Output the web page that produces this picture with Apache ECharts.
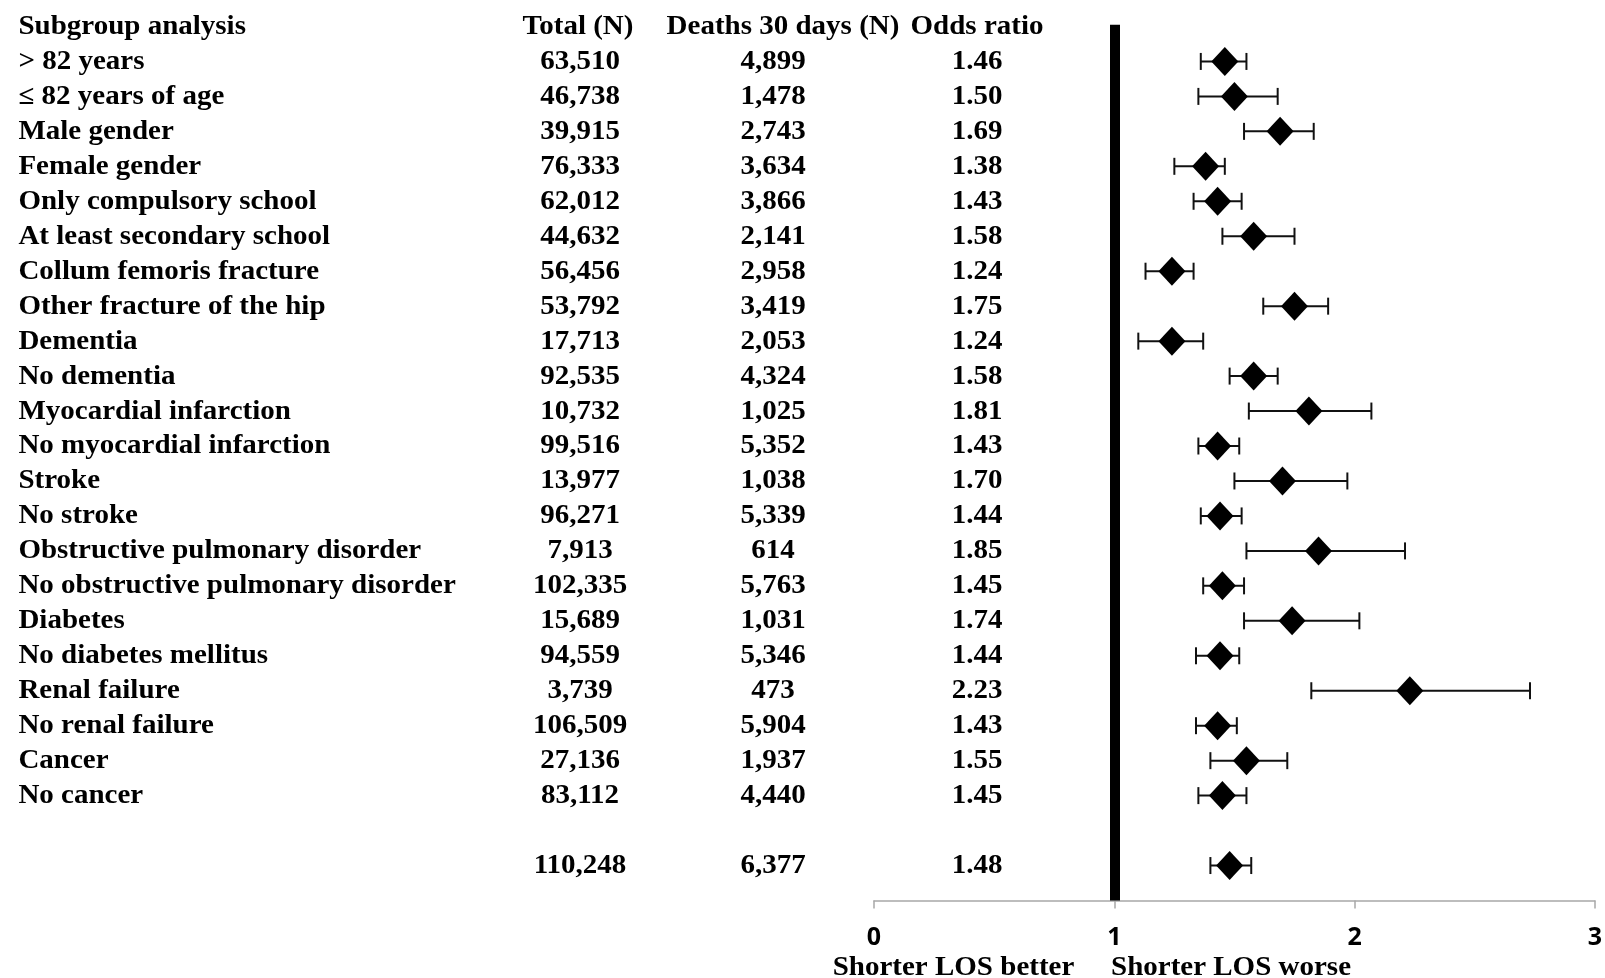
<!DOCTYPE html>
<html>
<head>
<meta charset="utf-8">
<script src="https://cdn.jsdelivr.net/npm/echarts@6/dist/echarts.min.js"></script>
<style>
html,body{margin:0;padding:0;background:#fff;}
#chart{width:1605px;height:978px;}
</style>
</head>
<body>
<div id="chart"></div>
<script>
// ---------- data ----------
const headers = ['Subgroup analysis', 'Total (N)', 'Deaths 30 days (N)', 'Odds ratio'];
const subgroups = ['> 82 years', '\u2264 82 years of age', 'Male gender', 'Female gender',
  'Only compulsory school', 'At least secondary school', 'Collum femoris fracture',
  'Other fracture of the hip', 'Dementia', 'No dementia', 'Myocardial infarction',
  'No myocardial infarction', 'Stroke', 'No stroke', 'Obstructive pulmonary disorder',
  'No obstructive pulmonary disorder', 'Diabetes', 'No diabetes mellitus', 'Renal failure',
  'No renal failure', 'Cancer', 'No cancer'];
const totalN = [63510, 46738, 39915, 76333, 62012, 44632, 56456, 53792, 17713, 92535, 10732,
  99516, 13977, 96271, 7913, 102335, 15689, 94559, 3739, 106509, 27136, 83112];
const deaths30 = [4899, 1478, 2743, 3634, 3866, 2141, 2958, 3419, 2053, 4324, 1025,
  5352, 1038, 5339, 614, 5763, 1031, 5346, 473, 5904, 1937, 4440];
const oddsRatio = [1.46, 1.50, 1.69, 1.38, 1.43, 1.58, 1.24, 1.75, 1.24, 1.58, 1.81,
  1.43, 1.70, 1.44, 1.85, 1.45, 1.74, 1.44, 2.23, 1.43, 1.55, 1.45];
const ciLow = [1.36, 1.35, 1.54, 1.25, 1.33, 1.45, 1.13, 1.62, 1.10, 1.48, 1.56,
  1.35, 1.50, 1.36, 1.55, 1.37, 1.54, 1.34, 1.82, 1.34, 1.40, 1.35];
const ciHigh = [1.55, 1.68, 1.83, 1.46, 1.53, 1.75, 1.33, 1.89, 1.37, 1.68, 2.07,
  1.52, 1.97, 1.53, 2.21, 1.54, 2.02, 1.52, 2.73, 1.51, 1.72, 1.55];
const overallTotalN = 110248;
const overallDeaths = 6377;
const overallOR = 1.48;
const overallCiLow = 1.40;
const overallCiHigh = 1.57;
const xTicks = [0, 1, 2, 3];
const referenceValue = 1;
const directionNotes = ['Shorter LOS better', 'Shorter LOS worse'];

// ---------- layout ----------
const ROW_FIRST = 1;                  // slot of first subgroup (slot 0 = header)
const OVERALL_SLOT = subgroups.length + 2;
const SLOT_MAX = OVERALL_SLOT + 1;
const SERIF = '"Liberation Serif", "Times New Roman", serif';
const TXT_FONT = 'bold 29px ' + SERIF;
const fmt = n => n.toLocaleString('en-US');

const slots = subgroups.map((_, i) => i + ROW_FIRST);
const allSlots = slots.concat([OVERALL_SLOT]);

const colName = subgroups.slice();
const colTotal = totalN.map(fmt).concat([fmt(overallTotalN)]);
const colDeaths = deaths30.map(fmt).concat([fmt(overallDeaths)]);
const colOR = oddsRatio.map(v => v.toFixed(2)).concat([overallOR.toFixed(2)]);

function textColumn(texts, rowSlots, px, align) {
  return {
    type: 'custom', xAxisIndex: 1, yAxisIndex: 1, silent: true, clip: false,
    data: rowSlots.map((s, i) => [i, s]),
    encode: { x: 0, y: 1 },
    renderItem: function (params, api) {
      const p = api.coord([px, api.value(1)]);
      return {
        type: 'text', x: p[0], y: p[1] + 0.5, scaleY: 0.93,
        style: { text: texts[params.dataIndex], font: TXT_FONT, fill: '#000',
                 align: align, verticalAlign: 'middle' }
      };
    }
  };
}

const chart = echarts.init(document.getElementById('chart'), null, { renderer: 'canvas' });

const gridTop = 9.0, gridBottom = 77.5;

const option = {
  animation: false,
  backgroundColor: '#fff',
  grid: [
    { left: 874, right: 6, top: gridTop, bottom: gridBottom, containLabel: false },
    { left: 0, right: 0, top: gridTop, bottom: gridBottom, containLabel: false }
  ],
  xAxis: [
    {
      gridIndex: 0, type: 'value', position: 'bottom',
      min: xTicks[0], max: xTicks[xTicks.length - 1], interval: 1,
      splitLine: { show: false },
      axisLine: { show: true, onZero: false, lineStyle: { color: '#a8a8a8', width: 1.5 } },
      axisTick: { show: true, length: 8, lineStyle: { color: '#a8a8a8', width: 1.5 } },
      axisLabel: { color: '#000', fontFamily: '"Open Sans", "DejaVu Sans", sans-serif', fontWeight: 700,
                   fontSize: 25, margin: 25 }
    },
    { gridIndex: 1, type: 'value', min: 0, max: 1605, show: false }
  ],
  yAxis: [
    { gridIndex: 0, type: 'value', inverse: true, min: -0.5, max: SLOT_MAX, show: false },
    { gridIndex: 1, type: 'value', inverse: true, min: -0.5, max: SLOT_MAX, show: false }
  ],
  graphic: [
    { type: 'text', x: 953.5, y: 968, scaleY: 0.93, silent: true,
      style: { text: directionNotes[0], font: TXT_FONT, fill: '#000', align: 'center', verticalAlign: 'middle' } },
    { type: 'text', x: 1111, y: 968, scaleY: 0.93, silent: true,
      style: { text: directionNotes[1], font: TXT_FONT, fill: '#000', align: 'left', verticalAlign: 'middle' } }
  ],
  series: [
    // confidence intervals
    {
      type: 'custom', xAxisIndex: 0, yAxisIndex: 0, silent: true, z: 3,
      data: ciLow.map((lo, i) => [lo, ciHigh[i], slots[i]]).concat([[overallCiLow, overallCiHigh, OVERALL_SLOT]]),
      encode: { x: [0, 1], y: 2 },
      renderItem: function (params, api) {
        const a = api.coord([api.value(0), api.value(2)]);
        const b = api.coord([api.value(1), api.value(2)]);
        const h = 8.5;
        const st = { stroke: '#111', lineWidth: 2 };
        return {
          type: 'group',
          children: [
            { type: 'line', shape: { x1: a[0], y1: a[1], x2: b[0], y2: b[1] }, style: st },
            { type: 'line', shape: { x1: a[0], y1: a[1] - h, x2: a[0], y2: a[1] + h }, style: st },
            { type: 'line', shape: { x1: b[0], y1: b[1] - h, x2: b[0], y2: b[1] + h }, style: st }
          ]
        };
      }
    },
    // odds ratio diamonds + reference line
    {
      type: 'scatter', xAxisIndex: 0, yAxisIndex: 0, silent: true, z: 4,
      symbol: 'diamond', symbolSize: [27, 29],
      itemStyle: { color: '#000', opacity: 1 },
      data: oddsRatio.map((v, i) => [v, slots[i]]).concat([[overallOR, OVERALL_SLOT]]),
      markLine: {
        silent: true, symbol: ['none', 'none'], z: 2,
        label: { show: false },
        lineStyle: { color: '#000', width: 10, type: 'solid', opacity: 1 },
        data: [[{ coord: [referenceValue, -0.05] }, { coord: [referenceValue, SLOT_MAX] }]]
      }
    },
    // table headers
    textColumn([headers[0]], [0], 18.4, 'left'),
    textColumn([headers[1]], [0], 578, 'center'),
    textColumn([headers[2]], [0], 783, 'center'),
    textColumn([headers[3]], [0], 977, 'center'),
    // table body
    textColumn(colName, slots, 18.4, 'left'),
    textColumn(colTotal, allSlots, 580, 'center'),
    textColumn(colDeaths, allSlots, 773, 'center'),
    textColumn(colOR, allSlots, 977, 'center')
  ]
};
chart.setOption(option);
</script>
</body>
</html>
